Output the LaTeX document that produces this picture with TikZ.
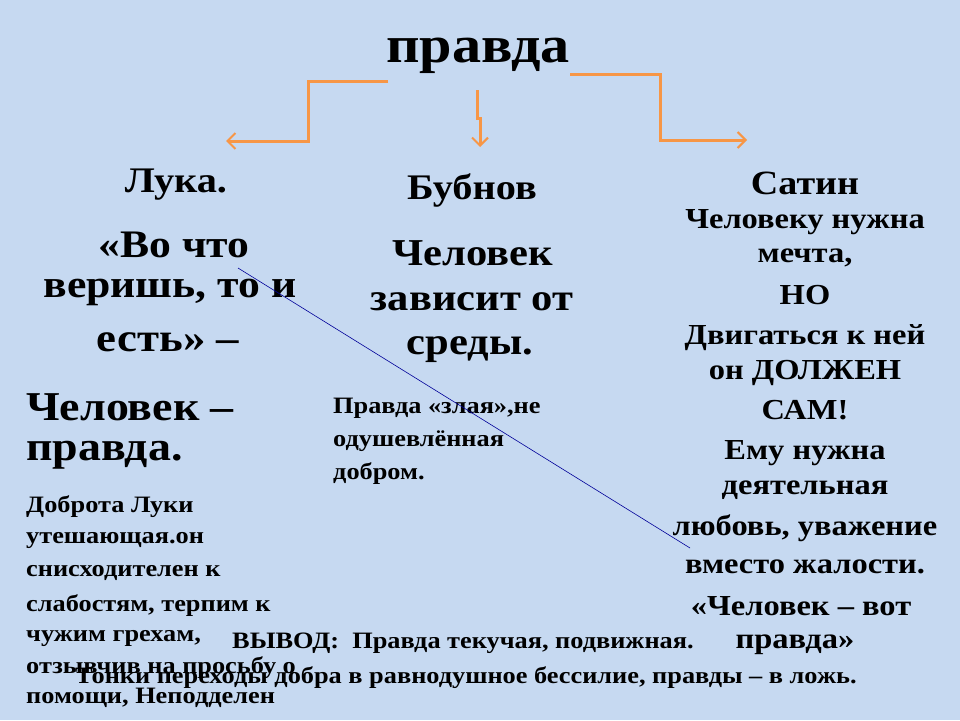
\documentclass[tikz,border=0pt]{standalone}
\usepackage{fontspec}
\setmainfont{Liberation Serif}[FakeStretch=1.12]
\usetikzlibrary{arrows.meta}
\definecolor{bg}{HTML}{C6D9F1}
\definecolor{org}{HTML}{F79646}
\begin{document}
\begin{tikzpicture}[x=1pt,y=-1pt,
 tl/.style={inner sep=0pt,font=\bfseries\fontsize{#1}{#1}\selectfont},
 tl/.default=30,
 ln/.style={anchor=west,tl=#1},
 ln/.default=23.5,
 conn/.style={org,line width=3pt,-{Straight Barb[length=8pt,width=16pt,line width=2pt]}}]
\fill[bg] (0,0) rectangle (960,720);
\node[tl=52] (title) at (478,56) {правда};
\coordinate (l0) at (388,81); \coordinate (l1) at (308,81); \coordinate (l2) at (308,141); \coordinate (l3) at (226,141);
\draw[conn] (l0) -- (l1) -- (l2) -- (l3);
\coordinate (m0) at (477,90); \coordinate (m1) at (477,118); \coordinate (m2) at (480,118); \coordinate (m3) at (480,147);
\draw[conn] (m0) -- (m1) -- (m2) -- (m3);
\coordinate (r0) at (570,74); \coordinate (r1) at (660,74); \coordinate (r2) at (660,140); \coordinate (r3) at (747,140);
\draw[conn] (r0) -- (r1) -- (r2) -- (r3);
% left
\node[tl=36] (a1) at (176,185) {Лука.};
\node[tl=39] (a2) at (174,245) {«Во что};
\node[tl=39] (a3) at (170,292) {веришь, то и};
\node[tl=40] (a4) at (168,342) {есть» –};
\node[ln=41] (a5) at (26,407) {Человек –};
\node[ln=41] (a6) at (26,455) {правда.};
\node[ln] (b1) at (26,507) {Доброта Луки};
\node[ln] (b2) at (26,540) {утешающая.он};
\node[ln] (b3) at (26,573) {снисходителен к};
\node[ln] (b4) at (26,606) {слабостям, терпим к};
\node[ln] (b5) at (26,638) {чужим грехам,};
\node[ln] (b6) at (26,668) {отзывчив на просьбу о};
\node[ln] (b7) at (26,698) {помощи, Неподделен};
% middle
\node[tl=36] (c1) at (472,190) {Бубнов};
\node[tl=38] (c2) at (473,253) {Человек};
\node[tl=38] (c3) at (472,302) {зависит от};
\node[tl=38] (c4) at (470,350) {среды.};
\node[ln] (d1) at (333,408) {Правда «злая»,не};
\node[ln] (d2) at (333,441) {одушевлённая};
\node[ln] (d3) at (333,474) {добром.};
% right
\node[tl=34] (e1) at (805,183) {Сатин};
\foreach \t/\y [count=\i from 2] in {Человеку нужна/222,{мечта,}/258,НО/295,Двигаться к ней/338,он ДОЛЖЕН/373,САМ!/410,Ему нужна/453,деятельная/490,{любовь, уважение}/528,вместо жалости./567}
  \node[tl=29] (e\i) at (805,\y) {\t};
\node[tl=29] (e12) at (801,606) {«Человек – вот};
\node[tl=29] (e13) at (795,645) {правда»};
% bottom
\node[ln] (f1) at (232,643) {ВЫВОД:\ \ Правда текучая, подвижная.};
\node[ln] (f2) at (75,678) {Тонки переходы добра в равнодушное бессилие, правды – в ложь.};
\coordinate (s0) at (238,268); \coordinate (s1) at (690,548);
\draw[blue!60!black,line width=0.6pt] (s0) -- (s1);
\end{tikzpicture}
\end{document}
